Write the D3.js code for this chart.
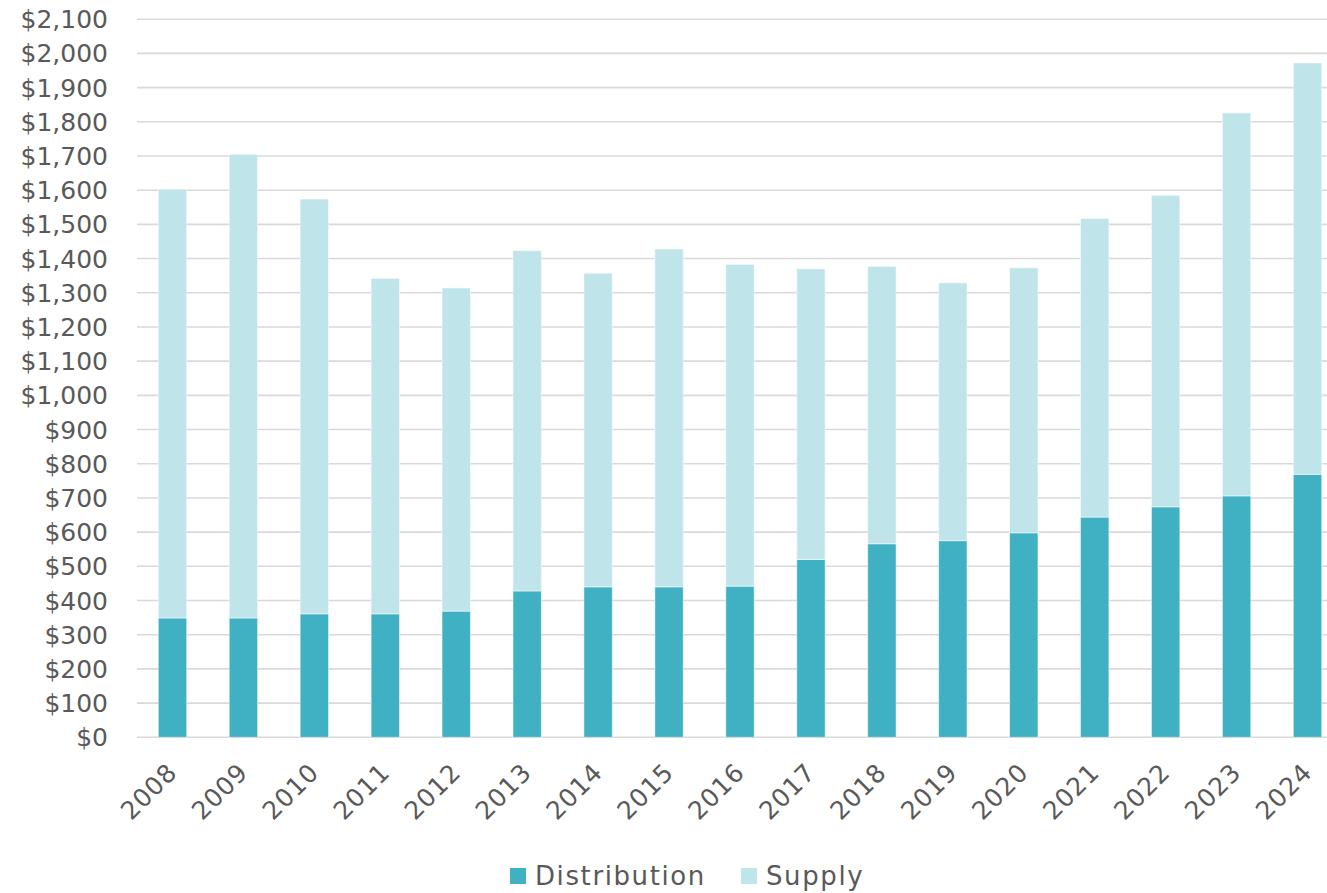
<!DOCTYPE html>
<html>
<head>
<meta charset="utf-8">
<script src="https://cdn.jsdelivr.net/npm/d3@7"></script>
<style>
  html, body { margin: 0; padding: 0; background: #fff; }
  svg { display: block; }
  text { font-family: "DejaVu Sans", sans-serif; fill: #595959; }
</style>
</head>
<body>
<svg id="chart" width="1327" height="893"></svg>
<script>
const years = ["2008","2009","2010","2011","2012","2013","2014","2015","2016","2017","2018","2019","2020","2021","2022","2023","2024"];
const distribution = [349, 349, 361, 361, 369, 428, 440, 440, 442, 520, 566, 575, 598, 644, 674, 706, 769];
const supply = [1254, 1356, 1213, 981, 945, 995, 917, 988, 941, 850, 811, 754, 775, 873, 911, 1120, 1203];
const yTicks = [0,100,200,300,400,500,600,700,800,900,1000,1100,1200,1300,1400,1500,1600,1700,1800,1900,2000,2100];
const seriesNames = ["Distribution", "Supply"];
const seriesColors = ["#40B0C3", "#BFE4EA"];

const svg = d3.select("#chart");
const plotLeft = 137, plotRight = 1343, plotTop = 19.2, plotBottom = 737.3;

const x = d3.scaleBand().domain(years).range([plotLeft, plotRight]).paddingInner(0.6).paddingOuter(0.3);
const y = d3.scaleLinear().domain([0, 2100]).range([plotBottom, plotTop]);

// gridlines
svg.append("g").selectAll("line").data(yTicks).join("line")
  .attr("x1", plotLeft).attr("x2", 1327)
  .attr("y1", d => y(d)).attr("y2", d => y(d))
  .attr("stroke", "#d9d9d9").attr("stroke-width", 1.6);

// y axis labels
const fmt = d3.format(",");
svg.append("g").selectAll("text").data(yTicks).join("text")
  .attr("x", 108).attr("y", d => y(d)).attr("dy", "0.36em")
  .attr("text-anchor", "end").attr("font-size", 25)
  .text(d => "$" + fmt(d));

// stacked data
const rows = years.map((yr, i) => ({year: yr, Distribution: distribution[i], Supply: supply[i]}));
const stack = d3.stack().keys(seriesNames)(rows);

svg.append("g").selectAll("g").data(stack).join("g")
  .attr("fill", (d, i) => seriesColors[i])
  .selectAll("rect").data(d => d).join("rect")
  .attr("x", d => x(d.data.year))
  .attr("width", x.bandwidth())
  .attr("y", d => y(d[1]))
  .attr("height", d => y(d[0]) - y(d[1]))
  .attr("stroke", "#ffffff").attr("stroke-opacity", 0.5).attr("stroke-width", 1);

// x labels
svg.append("g").selectAll("text").data(years).join("text")
  .attr("transform", d => `translate(${x(d) + x.bandwidth() / 2 + 6},${774}) rotate(-45)`)
  .attr("text-anchor", "end").attr("font-size", 25).attr("letter-spacing", 0.8)
  .text(d => d);

// legend
const legendItems = [{name: "Distribution", color: seriesColors[0], x: 510}, {name: "Supply", color: seriesColors[1], x: 741}];
const lg = svg.append("g").selectAll("g").data(legendItems).join("g")
  .attr("transform", d => `translate(${d.x},868)`);
lg.append("rect").attr("width", 16).attr("height", 16).attr("fill", d => d.color);
lg.append("text").attr("x", 25).attr("y", 8).attr("dy", "0.36em")
  .attr("font-size", 26).attr("letter-spacing", 1.6).text(d => d.name);
</script>
</body>
</html>
